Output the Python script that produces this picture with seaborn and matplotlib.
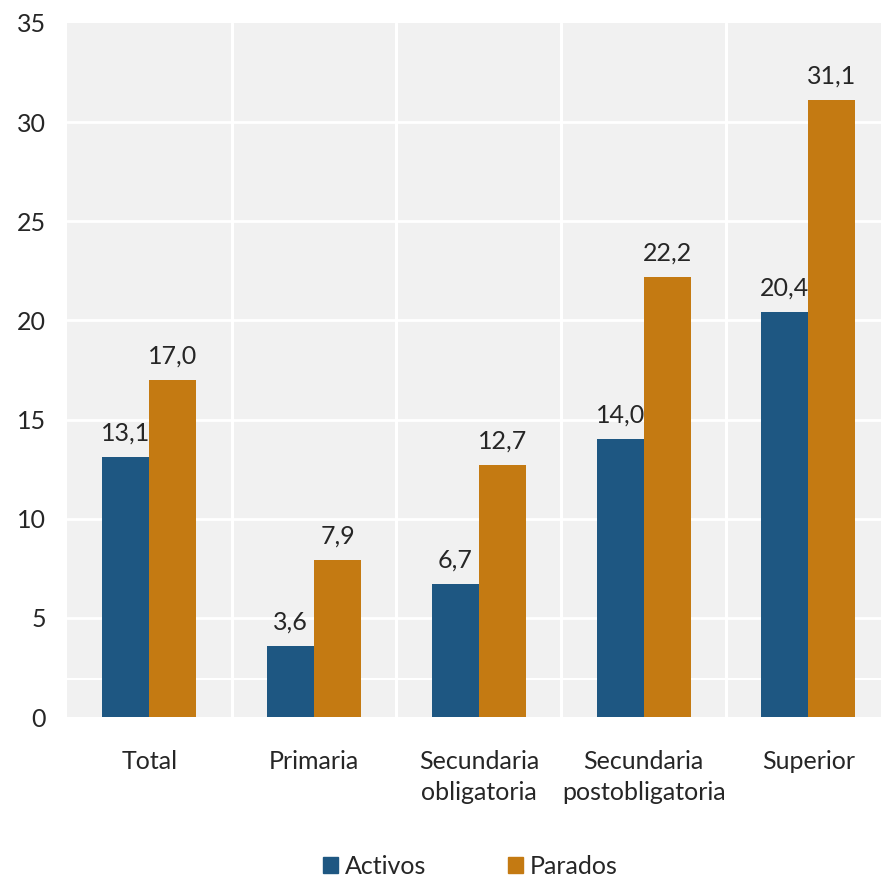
import matplotlib
matplotlib.use("Agg")
import matplotlib.pyplot as plt
import pandas as pd
import seaborn as sns
from matplotlib.patches import Patch

# datos
categorias = ["Total", "Primaria", "Secundaria\nobligatoria",
              "Secundaria\npostobligatoria", "Superior"]
activos = [13.1, 3.6, 6.7, 14.0, 20.4]
parados = [17.0, 7.9, 12.7, 22.2, 31.1]
series = ["Activos", "Parados"]
colores = ["#1E5782", "#C47A12"]

df = pd.DataFrame({
    "cat": categorias * 2,
    "serie": [series[0]] * 5 + [series[1]] * 5,
    "valor": activos + parados,
})

sns.set_style("white")
plt.rcParams["font.family"] = ["Lato", "DejaVu Sans"]
plt.rcParams["font.size"] = 18

fig = plt.figure(figsize=(8.81, 8.81), dpi=100)
ax = fig.add_axes([0.076, 0.186, 0.935, 0.788])
ax.set_facecolor("#F1F1F1")

sns.barplot(data=df, x="cat", y="valor", hue="serie", palette=colores,
            width=0.57, gap=0, ax=ax, legend=False, edgecolor="none",
            linewidth=0, saturation=1, errorbar=None)

ax.set_ylim(0, 35)
ax.set_xlim(-0.5, 4.5)
ax.set_yticks(range(0, 36, 5))
for y in range(5, 35, 5):
    ax.axhline(y, color="white", lw=2, zorder=0)
ax.axhline(1.9, color="white", lw=1.5, zorder=0)
for x in [0.5, 1.5, 2.5, 3.5]:
    ax.axvline(x, color="white", lw=2.2, zorder=0)

for sp in ax.spines.values():
    sp.set_visible(False)
ax.tick_params(axis="y", length=0, pad=15, labelsize=18)
ax.tick_params(axis="x", length=0, pad=24, labelsize=18)
for t in ax.get_xticklabels():
    t.set_linespacing(1.4)
ax.set_xlabel("")
ax.set_ylabel("")

for cont in ax.containers:
    labels = [f"{b.get_height():.1f}".replace(".", ",") for b in cont]
    ax.bar_label(cont, labels=labels, padding=9, fontsize=18)

handles = [Patch(color=c, label=s) for s, c in zip(series, colores)]
fig.legend(handles=handles, loc="lower center", bbox_to_anchor=(0.534, -0.022),
           ncol=2, frameon=False, fontsize=18, handlelength=0.6,
           handleheight=0.6, handletextpad=0.25, columnspacing=3.3)

fig.savefig("out.png", dpi=100)
